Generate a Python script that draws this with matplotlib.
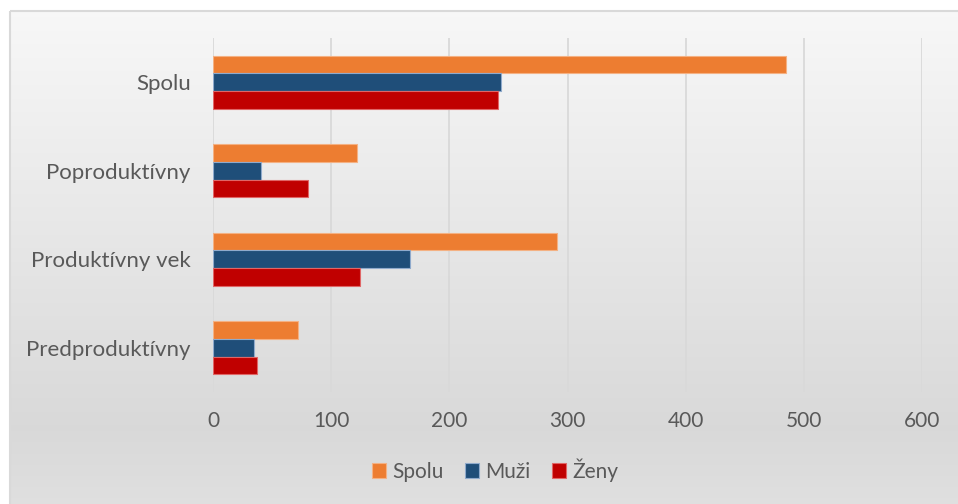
import numpy as np
import matplotlib.pyplot as plt
from matplotlib.patches import Rectangle

categories = ["Predproduktívny", "Produktívny vek", "Poproduktívny", "Spolu"]
spolu = [72, 291, 122, 485]
muzi = [35, 167, 41, 244]
zeny = [37, 124, 80, 241]
series_names = ["Spolu", "Muži", "Ženy"]
colors = ["#ED7D31", "#1F4E79", "#C00000"]
edges = ["#F4B183", "#8FAACC", "#E06666"]
xticks = [0, 100, 200, 300, 400, 500, 600]

plt.rcParams['font.family'] = ['Lato', 'DejaVu Sans']
text_color = "#595959"

fig = plt.figure(figsize=(9.58, 5.04), dpi=100)
fig.patch.set_facecolor("white")

# gradient background inside the chart frame
bg = fig.add_axes([0, 0, 1, 1], zorder=0)
bg.set_xlim(0, 958)
bg.set_ylim(504, 0)
bg.axis("off")
rows = np.linspace(0, 1, 200)
top, mid, bot = np.array([0.97, 0.97, 0.97]), np.array([0.85, 0.85, 0.85]), np.array([0.88, 0.88, 0.88])
grad = np.where(rows[:, None] < 0.83,
                top + (mid - top) * (rows[:, None] / 0.83),
                mid + (bot - mid) * ((rows[:, None] - 0.83) / 0.17))
bg.imshow(grad[:, None, :], extent=[10, 970, 515, 11], aspect="auto", zorder=0)
bg.add_patch(Rectangle((10, 11), 960, 505, fill=False, edgecolor="#d9d9d9", lw=1.5, zorder=1))

ax = fig.add_axes([213 / 958, 1 - 392 / 504, (922 - 213) / 958, (392 - 38) / 504], zorder=1)
ax.patch.set_alpha(0)

y = np.arange(len(categories))
h = 0.2
for i, (vals, name) in enumerate(zip([spolu, muzi, zeny], series_names)):
    ax.barh(y + h * (1 - i), vals, height=h, color=colors[i], edgecolor=edges[i],
            linewidth=0.8, label=name, zorder=3)

ax.set_xlim(0, 600)
ax.set_ylim(-0.5, 3.5)
ax.set_xticks(xticks)
ax.set_yticks(y)
ax.set_yticklabels(categories)
ax.grid(axis="x", color="#d9d9d9", lw=1.3, zorder=0)
for s in ax.spines.values():
    s.set_visible(False)
ax.tick_params(axis="both", length=0, labelsize=15, colors=text_color)
ax.tick_params(axis="x", pad=14)
ax.tick_params(axis="y", pad=16, labelsize=16)

fig.legend(loc="center", bbox_to_anchor=(495 / 958, 1 - 470 / 504), ncol=3, frameon=False,
           fontsize=15, handlelength=0.7, handleheight=0.7, handletextpad=0.3,
           columnspacing=1.0, labelcolor=text_color)

fig.savefig("out.png", dpi=100, facecolor=fig.get_facecolor())
